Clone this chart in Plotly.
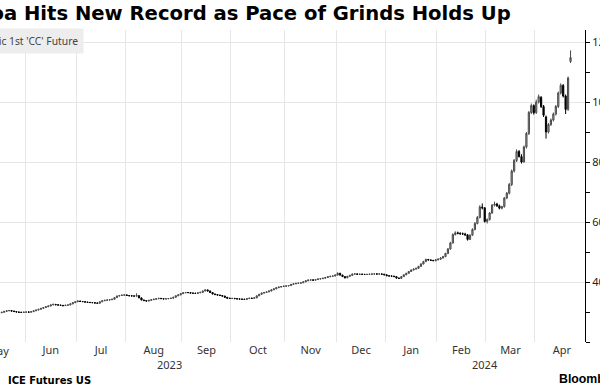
import numpy as np
import pandas as pd
import plotly.graph_objects as go

title_text = "Cocoa Hits New Record as Pace of Grinds Holds Up"
legend_text = "Generic 1st 'CC' Future"
source_text = "ICE Futures US"
brand_text = "Bloomberg"

holidays = ["2023-05-29", "2023-06-19", "2023-07-04", "2023-09-04", "2023-11-23",
            "2023-12-25", "2024-01-01", "2024-01-15", "2024-02-19", "2024-03-29",
            "2024-05-27"]
first_day = "2023-05-15"
last_day = "2024-04-19"

open_ = [2950, 2960, 2975, 2990, 3020, 3040, 3050, 3030, 3015, 3000,
         2990, 2985, 2995, 3000, 2995, 3010, 3040, 3065, 3090, 3120,
         3150, 3175, 3200, 3235, 3255, 3240, 3230, 3220, 3210, 3225,
         3235, 3270, 3310, 3340, 3365, 3350, 3345, 3330, 3320, 3315,
         3310, 3300, 3290, 3340, 3375, 3390, 3400, 3410, 3425, 3480,
         3530, 3550, 3560, 3570, 3550, 3540, 3535, 3530, 3545, 3470,
         3400, 3380, 3365, 3390, 3410, 3425, 3440, 3455, 3445, 3435,
         3440, 3450, 3460, 3490, 3540, 3570, 3610, 3640, 3650, 3645,
         3630, 3625, 3620, 3640, 3655, 3700, 3735, 3700, 3650, 3600,
         3580, 3565, 3550, 3530, 3490, 3460, 3450, 3455, 3445, 3435,
         3430, 3425, 3420, 3445, 3460, 3455, 3470, 3540, 3590, 3630,
         3650, 3670, 3700, 3740, 3770, 3810, 3830, 3850, 3860, 3870,
         3880, 3920, 3940, 3955, 3960, 3975, 4005, 4040, 4065, 4070,
         4060, 4080, 4100, 4110, 4125, 4150, 4175, 4190, 4200, 4230,
         4290, 4230, 4180, 4140, 4190, 4220, 4265, 4270, 4255, 4260,
         4255, 4250, 4255, 4260, 4265, 4270, 4265, 4268, 4260, 4240,
         4210, 4200, 4195, 4180, 4130, 4120, 4180, 4240, 4290, 4350,
         4400, 4430, 4455, 4520, 4600, 4680, 4750, 4735, 4720, 4710,
         4740, 4760, 4800, 4845, 4950, 5100, 5300, 5580, 5640, 5620,
         5610, 5600, 5570, 5420, 5560, 5750, 5950, 6150, 6500, 6470,
         6020, 6080, 6300, 6560, 6600, 6540, 6460, 6510, 6800, 6960,
         7250, 7700, 8050, 8350, 8180, 8000, 8500, 8950, 9650, 9880,
         9650, 10000, 10150, 9850, 9500, 9000, 9250, 9400, 9600, 9850,
         10300, 10550, 10200, 9760, 11350]

high = [2975, 2990, 3005, 3035, 3055, 3065, 3060, 3045, 3025, 3010,
        3005, 3010, 3015, 3012, 3025, 3055, 3080, 3105, 3135, 3165,
        3190, 3215, 3250, 3275, 3268, 3255, 3245, 3235, 3240, 3250,
        3285, 3325, 3355, 3385, 3380, 3365, 3358, 3342, 3335, 3330,
        3322, 3312, 3352, 3390, 3405, 3415, 3425, 3440, 3495, 3548,
        3568, 3578, 3590, 3585, 3565, 3555, 3550, 3625, 3560, 3485,
        3412, 3395, 3402, 3422, 3440, 3455, 3470, 3468, 3458, 3452,
        3462, 3475, 3505, 3555, 3588, 3625, 3658, 3668, 3662, 3655,
        3645, 3638, 3655, 3670, 3715, 3752, 3748, 3712, 3662, 3612,
        3592, 3578, 3562, 3542, 3502, 3475, 3468, 3468, 3456, 3448,
        3442, 3436, 3458, 3475, 3472, 3485, 3555, 3605, 3645, 3665,
        3685, 3715, 3755, 3788, 3825, 3848, 3865, 3878, 3885, 3895,
        3935, 3958, 3970, 3978, 3990, 4022, 4058, 4082, 4088, 4085,
        4095, 4118, 4125, 4140, 4168, 4192, 4205, 4218, 4248, 4320,
        4305, 4245, 4195, 4205, 4238, 4282, 4290, 4285, 4275, 4275,
        4270, 4270, 4275, 4280, 4288, 4285, 4282, 4282, 4272, 4255,
        4225, 4215, 4210, 4195, 4145, 4195, 4255, 4305, 4368, 4420,
        4450, 4478, 4540, 4625, 4705, 4780, 4770, 4752, 4738, 4760,
        4785, 4825, 4870, 4975, 5130, 5340, 5620, 5690, 5680, 5660,
        5650, 5640, 5600, 5590, 5790, 6000, 6200, 6560, 6620, 6500,
        6120, 6330, 6600, 6680, 6640, 6580, 6540, 6830, 7000, 7300,
        7750, 8100, 8420, 8400, 8260, 8550, 9000, 9700, 9950, 9920,
        10080, 10250, 10200, 9900, 9550, 9300, 9450, 9650, 9900, 10350,
        10620, 10600, 10250, 10850, 11720]

low = [2940, 2950, 2965, 2980, 3010, 3030, 3020, 3005, 2990, 2975,
       2970, 2972, 2985, 2982, 2985, 3000, 3030, 3055, 3080, 3110,
       3140, 3165, 3190, 3225, 3230, 3220, 3210, 3195, 3200, 3215,
       3225, 3260, 3300, 3330, 3340, 3335, 3320, 3310, 3305, 3298,
       3288, 3278, 3282, 3330, 3365, 3378, 3390, 3398, 3415, 3470,
       3520, 3538, 3548, 3540, 3528, 3525, 3518, 3515, 3460, 3390,
       3368, 3352, 3355, 3380, 3400, 3415, 3430, 3435, 3425, 3425,
       3430, 3440, 3450, 3482, 3530, 3560, 3600, 3628, 3632, 3620,
       3612, 3608, 3610, 3628, 3645, 3690, 3690, 3640, 3588, 3568,
       3552, 3538, 3518, 3478, 3448, 3438, 3440, 3432, 3422, 3418,
       3412, 3408, 3410, 3435, 3442, 3445, 3462, 3530, 3578, 3618,
       3640, 3660, 3688, 3728, 3760, 3798, 3820, 3838, 3848, 3858,
       3868, 3908, 3928, 3942, 3948, 3962, 3995, 4030, 4052, 4045,
       4048, 4068, 4088, 4098, 4112, 4138, 4162, 4178, 4188, 4220,
       4215, 4165, 4120, 4128, 4178, 4210, 4250, 4240, 4240, 4240,
       4235, 4235, 4240, 4245, 4250, 4250, 4250, 4245, 4225, 4195,
       4188, 4182, 4165, 4115, 4100, 4108, 4170, 4228, 4278, 4335,
       4385, 4415, 4440, 4505, 4585, 4665, 4718, 4705, 4695, 4690,
       4720, 4740, 4780, 4830, 4930, 5080, 5280, 5550, 5590, 5570,
       5570, 5540, 5380, 5400, 5540, 5720, 5920, 6120, 6420, 5980,
       5950, 6050, 6270, 6520, 6500, 6420, 6420, 6480, 6760, 6920,
       7200, 7650, 8000, 8150, 7950, 7980, 8450, 8900, 9600, 9580,
       9600, 9950, 9800, 9500, 8780, 8950, 9200, 9350, 9550, 9800,
       10250, 10150, 9600, 9700, 11300]

close = [2960, 2975, 2990, 3020, 3040, 3050, 3030, 3015, 3000, 2990,
         2985, 2995, 3000, 2995, 3010, 3040, 3065, 3090, 3120, 3150,
         3175, 3200, 3235, 3255, 3240, 3230, 3220, 3210, 3225, 3235,
         3270, 3310, 3340, 3365, 3350, 3345, 3330, 3320, 3315, 3310,
         3300, 3290, 3340, 3375, 3390, 3400, 3410, 3425, 3480, 3530,
         3550, 3560, 3570, 3550, 3540, 3535, 3530, 3545, 3470, 3400,
         3380, 3365, 3390, 3410, 3425, 3440, 3455, 3445, 3435, 3440,
         3450, 3460, 3490, 3540, 3570, 3610, 3640, 3650, 3645, 3630,
         3625, 3620, 3640, 3655, 3700, 3735, 3700, 3650, 3600, 3580,
         3565, 3550, 3530, 3490, 3460, 3450, 3455, 3445, 3435, 3430,
         3425, 3420, 3445, 3460, 3455, 3470, 3540, 3590, 3630, 3650,
         3670, 3700, 3740, 3770, 3810, 3830, 3850, 3860, 3870, 3880,
         3920, 3940, 3955, 3960, 3975, 4005, 4040, 4065, 4070, 4060,
         4080, 4100, 4110, 4125, 4150, 4175, 4190, 4200, 4230, 4290,
         4230, 4180, 4140, 4190, 4220, 4265, 4270, 4255, 4260, 4255,
         4250, 4255, 4260, 4265, 4270, 4265, 4268, 4260, 4240, 4210,
         4200, 4195, 4180, 4130, 4120, 4180, 4240, 4290, 4350, 4400,
         4430, 4455, 4520, 4600, 4680, 4750, 4735, 4720, 4710, 4740,
         4760, 4800, 4845, 4950, 5100, 5300, 5580, 5640, 5620, 5610,
         5600, 5570, 5420, 5560, 5750, 5950, 6150, 6500, 6470, 6020,
         6080, 6300, 6560, 6600, 6540, 6460, 6510, 6800, 6960, 7250,
         7700, 8050, 8350, 8180, 8000, 8500, 8950, 9650, 9880, 9640,
         10000, 10180, 9850, 9560, 9000, 9250, 9400, 9600, 9850, 10300,
         10560, 10200, 9750, 10800, 11480]

month_names = ["Jun", "Jul", "Aug", "Sep", "Oct", "Nov", "Dec",
               "Jan", "Feb", "Mar", "Apr"]
first_month_name = "May"
year_labels = ["2023", "2024"]
year_label_dates = ["2023-08-24 14:00", "2024-02-29 02:00"]
y_ticks = [4000, 6000, 8000, 10000, 12000]
y_minor = [2000, 3000, 5000, 7000, 9000, 11000]

# trading calendar
cal = pd.bdate_range("2023-05-01", "2024-06-28")
cal = cal[~cal.isin(pd.to_datetime(holidays))]
dates = cal[(cal >= first_day) & (cal <= last_day)]
assert len(dates) == len(close) == len(open_) == len(high) == len(low)


def pos_to_date(pos):
    i = int(np.floor(pos))
    return cal[i] + pd.Timedelta(days=float(pos - i))


def first_idx(y, m):
    return int(np.where((cal.year == y) & (cal.month == m))[0][0])


month_seq = [(2023, m) for m in range(5, 13)] + [(2024, m) for m in range(1, 6)]
starts = [first_idx(y, m) for (y, m) in month_seq]
j0 = starts[1]  # first trading day of June 2023
x_start = j0 - 10.7
x_end = j0 + 227.9

grid_vals = [pos_to_date(s - 0.5) for s in starts[1:-1]]
mids = [(starts[i] + starts[i + 1] - 1) / 2 for i in range(len(starts) - 1)]
tick_vals = [pos_to_date(p) for p in mids[1:]]
may_paper = (mids[0] - x_start) / (x_end - x_start)

W, H = 600, 388
ml, mr, mt, mb = 0, 15, 30, 46
ph = H - mt - mb
pw = W - ml - mr


def py(px):
    return (H - mb - px) / ph


def pxx(px):
    return (px - ml) / pw


fig = go.Figure(go.Candlestick(
    x=dates, open=open_, high=high, low=low, close=close,
    increasing=dict(line=dict(color="#4a4a4a", width=1), fillcolor="#a6a6a6"),
    decreasing=dict(line=dict(color="#000000", width=1), fillcolor="#000000"),
    showlegend=False, hoverinfo="skip",
))

lab_font = dict(family="Noto Sans, sans-serif", size=11, color="#333333")

annotations = [
    dict(text=f"<b>{title_text}</b>", xref="paper", yref="paper", x=pxx(513), y=py(14),
         xanchor="right", yanchor="middle", showarrow=False,
         font=dict(family="DejaVu Sans, sans-serif", size=19.6, color="#000000")),
    dict(text=legend_text, xref="paper", yref="paper", x=pxx(84), y=py(40.5),
         xanchor="right", yanchor="middle", showarrow=False, bgcolor="#ededed",
         borderpad=5, font=dict(family="Noto Sans, sans-serif", size=10.3, color="#444444")),
    dict(text=f"<b>{source_text}</b>", xref="paper", yref="paper", x=pxx(6), y=py(380),
         xanchor="left", yanchor="middle", showarrow=False,
         font=dict(family="DejaVu Sans, sans-serif", size=10, color="#000000")),
    dict(text=f"<b>{brand_text}</b>", xref="paper", yref="paper", x=pxx(557), y=py(379),
         xanchor="left", yanchor="middle", showarrow=False,
         font=dict(family="Liberation Sans, Arial, sans-serif", size=12.3, color="#000000")),
    dict(text=first_month_name, xref="paper", yref="paper", x=may_paper, y=py(351),
         xanchor="center", yanchor="middle", showarrow=False, font=lab_font),
]
for lbl, d in zip(year_labels, year_label_dates):
    annotations.append(dict(text=lbl, xref="x", yref="paper", x=d, y=py(364),
                            xanchor="center", yanchor="middle", showarrow=False,
                            font=lab_font))

fig.update_layout(
    width=W, height=H,
    margin=dict(l=ml, r=mr, t=mt, b=mb, pad=0, autoexpand=False),
    paper_bgcolor="white", plot_bgcolor="white",
    showlegend=False,
    annotations=annotations,
    xaxis=dict(
        type="date",
        range=[pos_to_date(x_start), pos_to_date(x_end)],
        rangebreaks=[dict(bounds=["sat", "mon"]), dict(values=holidays)],
        rangeslider=dict(visible=False),
        tickmode="array", tickvals=tick_vals, ticktext=month_names,
        ticks="", showgrid=False, showline=False, zeroline=False,
        tickfont=lab_font, automargin=False,
        minor=dict(tickmode="array", tickvals=grid_vals, showgrid=True,
                   gridcolor="#e6e6e6", gridwidth=1, ticks=""),
    ),
    yaxis=dict(
        side="right", range=[2000, 12400],
        tickmode="array", tickvals=y_ticks, tickformat="d",
        ticks="outside", ticklen=4, tickcolor="#000000", tickwidth=1,
        showline=True, linecolor="#000000", linewidth=1,
        showgrid=True, gridcolor="#e6e6e6", gridwidth=1, zeroline=False,
        tickfont=dict(family="Noto Sans, sans-serif", size=11, color="#222222"),
        automargin=False,
        minor=dict(tickmode="array", tickvals=y_minor, ticks="outside", ticklen=4,
                   tickcolor="#000000", showgrid=False),
    ),
)

fig.write_html("out.html",
               config={"displayModeBar": False},
               post_script="document.body.style.margin='0px';"
                           "document.body.style.overflow='hidden';")
